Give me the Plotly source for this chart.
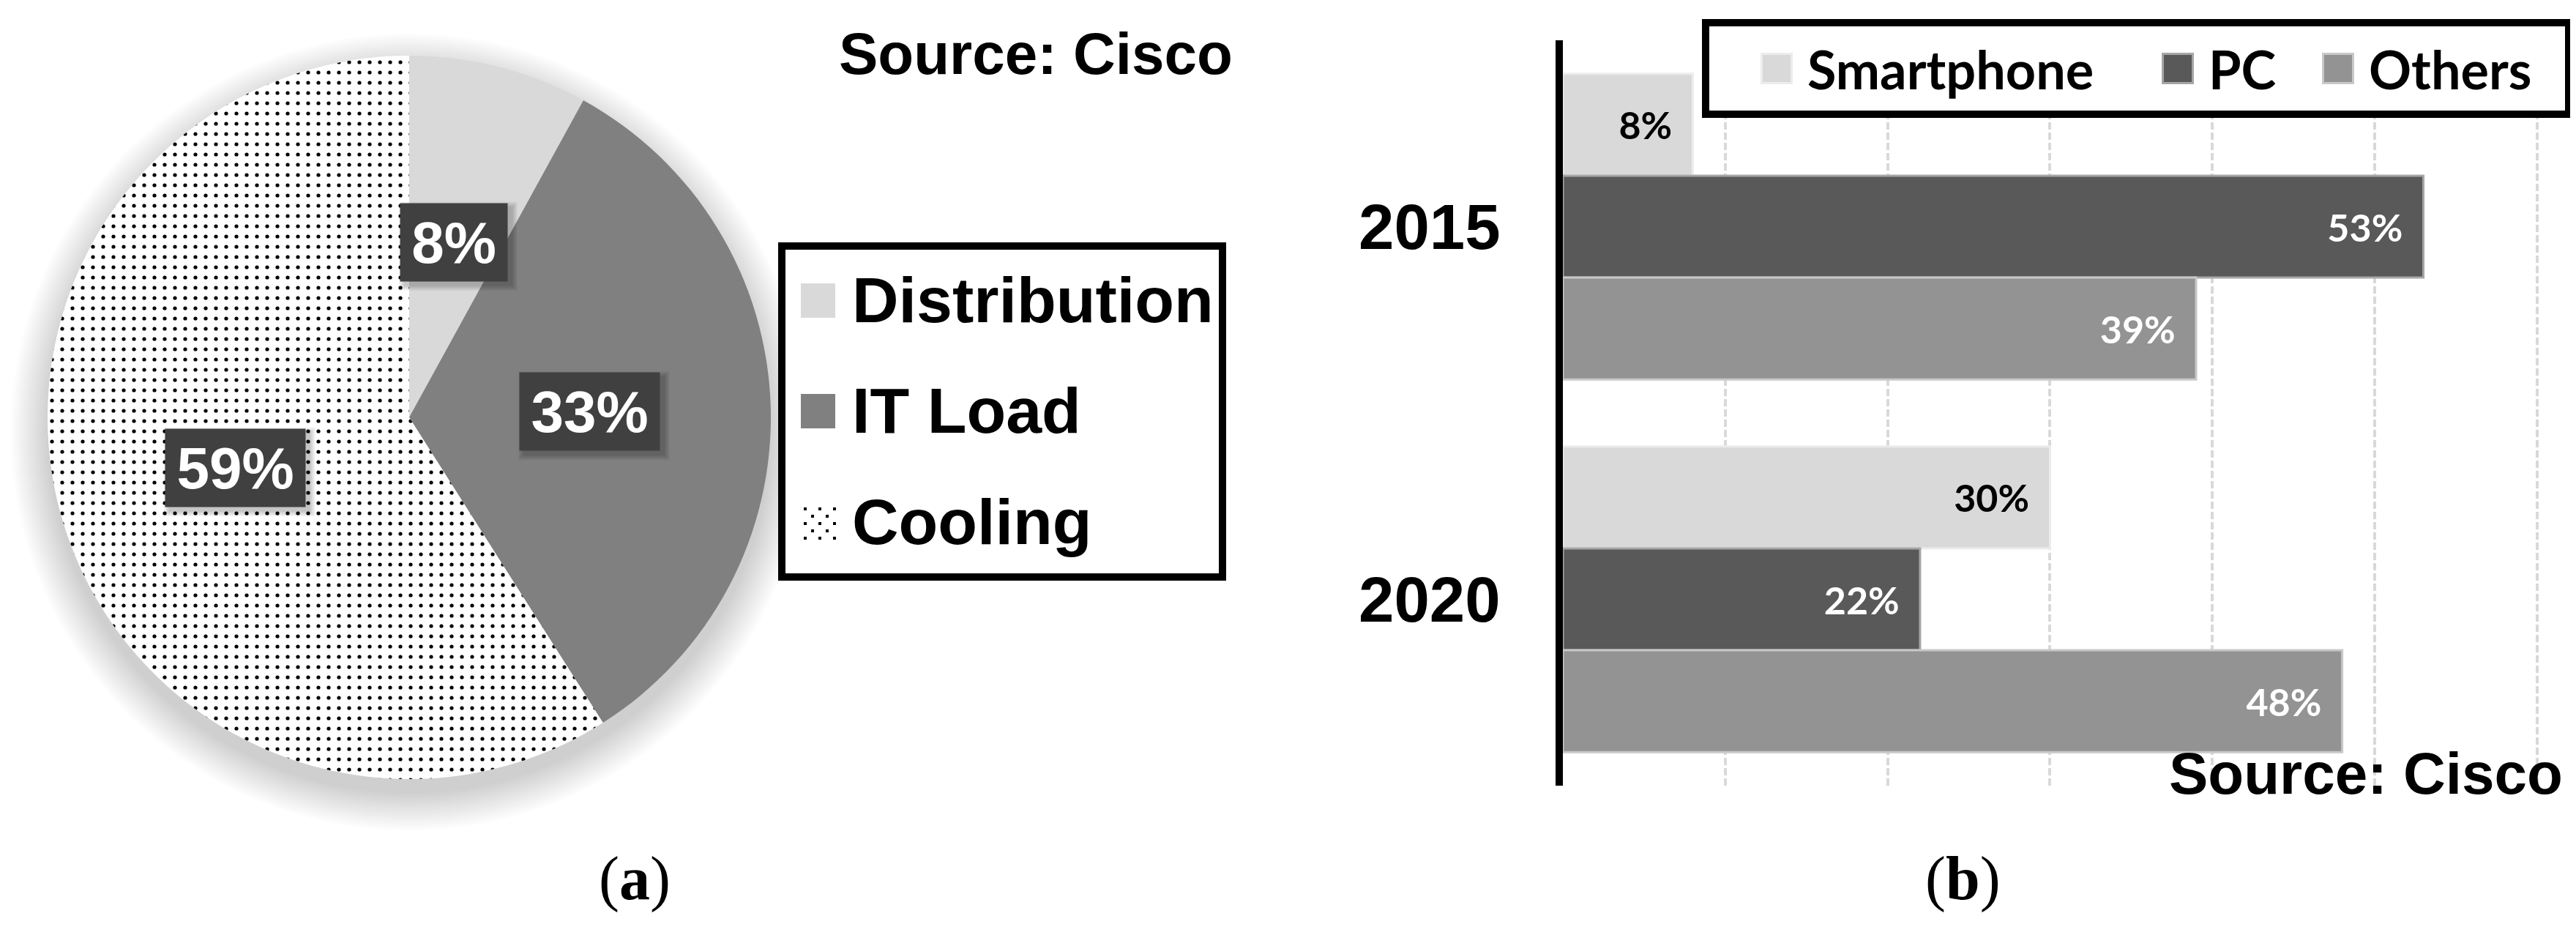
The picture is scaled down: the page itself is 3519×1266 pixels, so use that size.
import math
import plotly.graph_objects as go

W, H = 3519, 1266

# (a) data centre power breakdown
pie_labels = ["Distribution", "IT Load", "Cooling"]
pie_values = [8, 33, 59]
pie_colors = ["#d9d9d9", "#808080", "#ffffff"]
pie_patterns = ["", "", "."]

# (b) traffic share by device
years = ["2015", "2020"]
devices = ["Smartphone", "PC", "Others"]
smartphone = [8, 30]
pc = [53, 22]
others = [39, 48]
bar_colors = ["#d9d9d9", "#595959", "#939393"]
bar_edges = ["#ececec", "#a6a6a6", "#c8c8c8"]
label_colors = ["black", "white", "white"]

source_text = "Source: Cisco"
captions = ["(<b>a</b>)", "(<b>b</b>)"]

ARIAL = "Liberation Sans, Arial, sans-serif"
CALIBRI = "Lato, Carlito, Calibri, sans-serif"
SERIF = "Liberation Serif, Times New Roman, serif"


def px(x):
    return x / W


def py(y):
    return 1 - y / H


fig = go.Figure()

# ---- pie (a)
cx, cy, R = 551, 562, 494
fig.add_trace(go.Pie(
    labels=pie_labels, values=pie_values, sort=False,
    direction="clockwise", rotation=0,
    marker=dict(colors=pie_colors, line=dict(width=0),
                pattern=dict(shape=pie_patterns, fgcolor="black",
                             size=14, solidity=0.11)),
    textinfo="none", showlegend=False,
    domain=dict(x=[px(cx - R), px(cx + R)], y=[py(cy + R), py(cy - R)]),
))

# soft shadow under the pie, pushed a bit downwards
for i in range(16):
    r = R + 50 - i * 3.3
    fig.add_shape(type="circle", xref="paper", yref="paper",
                  x0=px(cx - r), x1=px(cx + r),
                  y0=py(cy + 20 + r), y1=py(cy + 20 - r),
                  fillcolor="rgba(0,0,0,0.013)", line_width=0, layer="below")

# data labels in dark boxes, half way out along each slice
total = sum(pie_values)
cum = 0
for lab, v in zip(pie_labels, pie_values):
    mid = (cum + v / 2) / total
    cum += v
    th = 2 * math.pi * mid
    lx = cx + 0.5 * R * math.sin(th)
    ly = cy - 0.5 * R * math.cos(th)
    txt = f"{round(100 * v / total)}%"
    bw = 50 + 45 * len(txt)
    hw, hh = bw / 2 + 3, 53
    for k in range(4):
        fig.add_shape(type="rect", xref="paper", yref="paper",
                      x0=px(lx - hw + 4 - k * 2), x1=px(lx + hw + 7 + k * 2),
                      y0=py(ly + hh + 7 + k * 2), y1=py(ly - hh + 4 - k * 2),
                      fillcolor="rgba(0,0,0,0.06)", line_width=0, layer="above")
    fig.add_annotation(x=px(lx), y=py(ly), xref="paper", yref="paper",
                       xanchor="center", yanchor="middle",
                       text=txt, showarrow=False, width=bw, height=100,
                       borderpad=3, bgcolor="#404040",
                       font=dict(family=ARIAL, size=80, color="white", weight="bold"))

# legend (a)
fig.add_shape(type="rect", xref="paper", yref="paper",
              x0=px(1060), x1=px(1662), y0=py(780), y1=py(328),
              line=dict(color="black", width=10), fillcolor="white", layer="above")
leg_a_y = [403, 554, 706]
for lab, col, pat, yc in zip(pie_labels, pie_colors, pie_patterns, leg_a_y):
    if pat == ".":
        for row in range(5):
            for k in range(3 - row % 2):
                dx = 1090 + 10 * (row % 2) + 20 * k
                dy = 685 + 10 * row
                fig.add_shape(type="rect", xref="paper", yref="paper",
                              x0=px(dx), x1=px(dx + 4), y0=py(dy + 4), y1=py(dy),
                              fillcolor="black", line_width=0, layer="above")
    else:
        fig.add_shape(type="rect", xref="paper", yref="paper",
                      x0=px(1086), x1=px(1133), y0=py(yc + 23), y1=py(yc - 24),
                      fillcolor=col, line_width=0, layer="above")
    fig.add_annotation(x=px(1154), y=py(yc - 2), xref="paper", yref="paper",
                       xanchor="left", yanchor="middle", text=lab, showarrow=False,
                       font=dict(family=ARIAL, size=88, color="black", weight="bold"))

fig.add_annotation(x=px(1678), y=py(66), xref="paper", yref="paper",
                   xanchor="right", yanchor="middle", text=source_text, showarrow=False,
                   font=dict(family=ARIAL, size=80, color="black", weight="bold"))

# ---- bars (b)
for name, vals, col, edge, tcol in zip(devices, [smartphone, pc, others],
                                       bar_colors, bar_edges, label_colors):
    fig.add_trace(go.Bar(
        y=years, x=vals, name=name, orientation="h",
        marker=dict(color=col, line=dict(color=edge, width=3)),
        text=[f"{v}%\u00a0\u00a0" for v in vals],
        textposition="inside", insidetextanchor="end",
        textfont=dict(family=CALIBRI, size=52, color=tcol, weight="bold"),
        showlegend=False,
    ))

x0_px, px_per = 2127, 22.18
fig.update_layout(
    width=W, height=H,
    margin=dict(l=0, r=0, t=0, b=0),
    paper_bgcolor="white", plot_bgcolor="rgba(0,0,0,0)",
    barmode="group", bargap=0.18, bargroupgap=0,
    xaxis=dict(domain=[px(x0_px), px(x0_px + 61 * px_per)], range=[0, 61],
               dtick=10, showgrid=True, gridcolor="#d9d9d9", gridwidth=4,
               griddash="10px,4px", showticklabels=False, zeroline=False,
               showline=False, ticks=""),
    yaxis=dict(domain=[py(1065), py(47)], type="category",
               categoryorder="array", categoryarray=years, range=[1.5, -0.5],
               showline=True, linecolor="black", linewidth=10, ticks="",
               showgrid=False, ticklabelstandoff=58,
               tickfont=dict(family=ARIAL, size=87, color="black", weight="bold")),
)

# legend (b)
fig.add_shape(type="rect", xref="paper", yref="paper",
              x0=px(2322), x1=px(3501), y0=py(148), y1=py(23),
              line=dict(color="black", width=10), fillcolor="white", layer="above")
leg_b_x = [2397, 2945, 3164]
for name, col, edge, lx in zip(devices, bar_colors, bar_edges, leg_b_x):
    fig.add_shape(type="rect", xref="paper", yref="paper",
                  x0=px(lx + 1.5), x1=px(lx + 42.5), y0=py(105.5), y1=py(65.5),
                  fillcolor=col, line=dict(color=edge, width=3), layer="above")
    fig.add_annotation(x=px(lx + 62), y=py(86), xref="paper", yref="paper",
                       xanchor="left", yanchor="middle", text=name, showarrow=False,
                       font=dict(family=CALIBRI, size=72, color="black", weight="bold"))

fig.add_annotation(x=px(3495), y=py(1048), xref="paper", yref="paper",
                   xanchor="right", yanchor="middle", text=source_text, showarrow=False,
                   font=dict(family=ARIAL, size=80, color="black", weight="bold"))

# captions
for cap, xc in zip(captions, [859, 2673]):
    fig.add_annotation(x=px(xc), y=py(1192), xref="paper", yref="paper",
                       xanchor="center", yanchor="middle", text=cap, showarrow=False,
                       font=dict(family=SERIF, size=84, color="black"))

fig.write_html("out.html")
